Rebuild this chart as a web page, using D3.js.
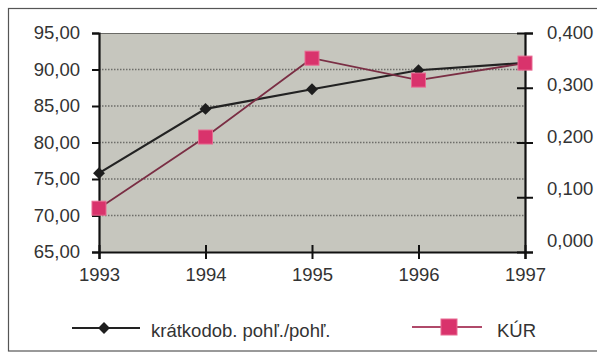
<!DOCTYPE html>
<html><head><meta charset="utf-8">
<script src="https://cdn.jsdelivr.net/npm/d3@7"></script>
<style>
html,body{margin:0;padding:0;background:#fff;}
svg{display:block;font-family:"Liberation Sans",Arial,sans-serif;}
</style></head>
<body><svg id="c" width="597" height="353"></svg>
<script>
const years = [1993, 1994, 1995, 1996, 1997];
const kratkodob = [75.8, 84.6, 87.3, 89.9, 90.9];
const kur = [0.080, 0.210, 0.354, 0.314, 0.345];
const leftTicks = [65, 70, 75, 80, 85, 90, 95];
const rightTicks = [0, 0.1, 0.2, 0.3, 0.4];
const seriesNames = ["krátkodob. pohľ./pohľ.", "KÚR"];

const svg = d3.select("#c");
const L = 99, R = 525, T = 33, B = 252;
const x = d3.scalePoint().domain(years).range([L, R]);
const yL = d3.scaleLinear().domain([65, 95]).range([B, T]);
const yR = d3.scaleLinear().domain([0, 0.4]).range([B, T]);
const fmtL = v => d3.format(".2f")(v).replace(".", ",");
const fmtR = v => d3.format(".3f")(v).replace(".", ",");

// outer frame
svg.append("rect").attr("x", 8.5).attr("y", 8.5).attr("width", 600).attr("height", 342.5)
  .attr("fill", "#fff").attr("stroke", "#555").attr("stroke-width", 1.2);

// plot area
svg.append("rect").attr("x", L).attr("y", T).attr("width", R - L).attr("height", B - T)
  .attr("fill", "#c6c6be");
svg.append("line").attr("x1", L).attr("x2", R).attr("y1", T + 0.5).attr("y2", T + 0.5)
  .attr("stroke", "#6a6a66").attr("stroke-width", 1.2);

// gridlines
svg.append("g").selectAll("line").data(leftTicks.filter(v => v > 65 && v < 95)).join("line")
  .attr("x1", L).attr("x2", R).attr("y1", d => yL(d)).attr("y2", d => yL(d))
  .attr("stroke", "#6e6e6a").attr("stroke-width", 1.3).attr("stroke-dasharray", "1.5,1.5");

// left axis
const gL = svg.append("g").attr("transform", `translate(${L},0)`)
  .call(d3.axisLeft(yL).tickValues(leftTicks).tickFormat(fmtL).tickSize(7).tickPadding(12));
// right axis
const gR = svg.append("g").attr("transform", `translate(${R},0)`)
  .call(d3.axisRight(yR).tickValues(rightTicks).tickFormat(fmtR).tickSize(8).tickPadding(14));
gR.selectAll(".tick line").attr("x1", -8);
gR.selectAll(".tick text").attr("dy", (d, i) => (0.32 - (1 - d / 0.4) * 0.6) + "em");
// bottom axis
const gB = svg.append("g").attr("transform", `translate(0,${B})`)
  .call(d3.axisBottom(x).tickSize(7).tickPadding(9));
gB.selectAll(".tick line").attr("y1", -7);

[gL, gR, gB].forEach(g => {
  g.select(".domain").attr("stroke", "#111").attr("stroke-width", 2.2);
  g.selectAll(".tick line").attr("stroke", "#111").attr("stroke-width", 2);
  g.selectAll(".tick text").attr("fill", "#333").attr("font-size", 18.5)
    .attr("font-family", "'Liberation Sans', Arial, sans-serif");
});

// lines
const line1 = d3.line().x((d, i) => x(years[i])).y(d => yL(d));
const line2 = d3.line().x((d, i) => x(years[i])).y(d => yR(d));
svg.append("path").datum(kratkodob).attr("d", line1).attr("fill", "none")
  .attr("stroke", "#222").attr("stroke-width", 2.2);
svg.append("path").datum(kur).attr("d", line2).attr("fill", "none")
  .attr("stroke", "#7a2e44").attr("stroke-width", 1.8);

const diamond = d3.symbol().type(d3.symbolDiamond2).size(90);
svg.append("g").selectAll("path").data(kratkodob).join("path")
  .attr("d", diamond)
  .attr("transform", (d, i) => `translate(${x(years[i])},${yL(d)})`)
  .attr("fill", "#1e1e1e");

const sq = 14;
svg.append("g").selectAll("rect").data(kur).join("rect")
  .attr("x", (d, i) => x(years[i]) - sq / 2).attr("y", d => yR(d) - sq / 2)
  .attr("width", sq).attr("height", sq)
  .attr("fill", "#d9336c").attr("stroke", "#e86a92").attr("stroke-width", 1);

// legend
const lg = svg.append("g");
lg.append("line").attr("x1", 72).attr("x2", 140).attr("y1", 328).attr("y2", 328)
  .attr("stroke", "#222").attr("stroke-width", 2);
lg.append("path").attr("d", diamond).attr("transform", "translate(104,328)").attr("fill", "#1e1e1e");
lg.append("text").attr("x", 151).attr("y", 337).attr("font-size", 18.5).attr("fill", "#333")
  .text(seriesNames[0]);
lg.append("line").attr("x1", 412).attr("x2", 482).attr("y1", 327).attr("y2", 327)
  .attr("stroke", "#b04a6a").attr("stroke-width", 1.8);
lg.append("rect").attr("x", 441).attr("y", 319).attr("width", 16).attr("height", 16)
  .attr("fill", "#d9336c").attr("stroke", "#e86a92");
lg.append("text").attr("x", 497).attr("y", 337).attr("font-size", 18.5).attr("fill", "#333")
  .text(seriesNames[1]);
</script></body></html>
